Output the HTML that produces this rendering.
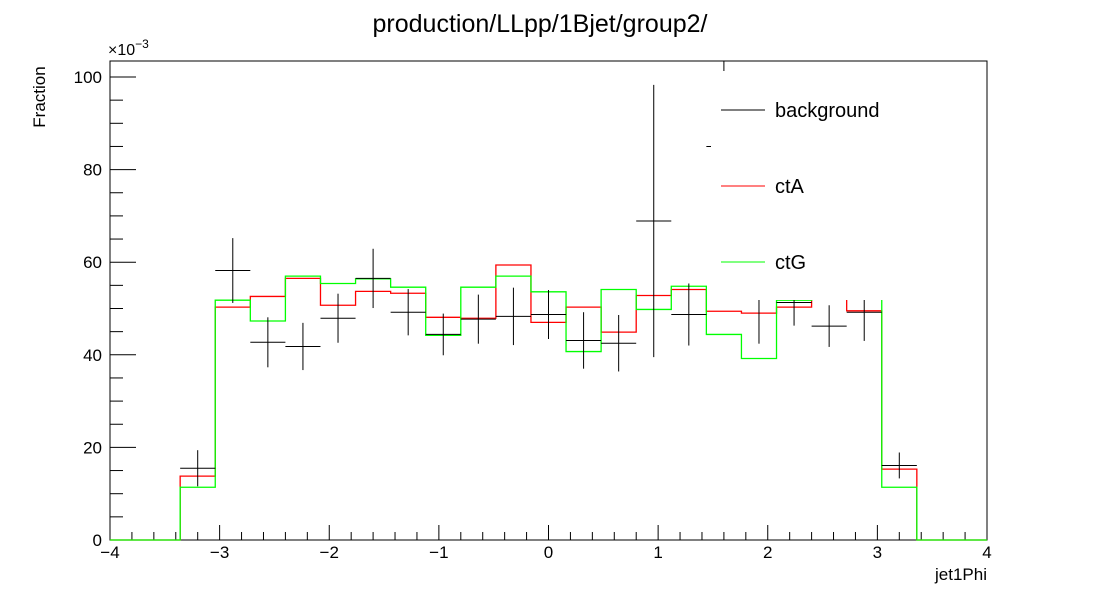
<!DOCTYPE html>
<html><head><meta charset="utf-8"><style>
body{margin:0;background:#fff}
svg{display:block;font-family:"Liberation Sans",Arial,sans-serif}
</style></head><body>
<svg id="c" width="1096" height="600" viewBox="0 0 1096 600">
<rect x="0" y="0" width="1096" height="600" fill="#fff"/>
<text x="540" y="32" font-size="25" text-anchor="middle">production/LLpp/1Bjet/group2/</text>
<g id="plot"></g>
</svg>
<script>
const binLo = -3.36, binHi = 3.36;
const bgVals = [15.5,58.2,42.7,41.8,47.9,56.5,49.2,44.4,47.7,48.3,48.7,43.1,42.5,68.9,48.7,85,53,51.3,46.2,49.2,16.1];
const bgErrs = [3.9,7.0,5.4,5.1,5.3,6.4,5.0,4.5,5.3,6.2,5.3,6.1,6.1,29.4,6.7,25,10.6,5.0,4.5,6.2,2.8];
const ctAVals = [13.8,50.3,52.6,56.5,50.7,53.7,53.3,48.1,47.9,59.4,47.0,50.3,44.9,52.8,54.1,49.4,49.0,50.3,53,49.5,15.3];
const ctGVals = [11.4,51.8,47.3,57.0,55.4,56.4,54.6,44.2,54.6,57.0,53.6,40.7,54.1,49.8,54.8,44.4,39.2,51.8,52.5,53,11.4];
const xTicks = [-4,-3,-2,-1,0,1,2,3,4];
const yTicks = [0,20,40,60,80,100];
const legendLabels = ["background","ctA","ctG"];

const NS="http://www.w3.org/2000/svg";
const g=document.getElementById('plot');
const X0=110,X1=987,Y0=540,Y1=61;
const xs=v=>X0+(v+4)/8*(X1-X0);
const ys=v=>Y0-v*4.63;
function mk(tag,attrs,parent){const e=document.createElementNS(NS,tag);for(const k in attrs)e.setAttribute(k,attrs[k]);(parent||g).appendChild(e);return e;}
const n=bgVals.length, w=(binHi-binLo)/n;

// frame
const fr=mk('rect',{x:X0,y:Y1,width:X1-X0,height:Y0-Y1,fill:'none',stroke:'#000','stroke-width':1});


// x ticks
const xa=mk('g',{});


for(let v=-4;v<=4.001;v+=0.2){const x=xs(v);const maj=Math.abs(v-Math.round(v))<1e-6;mk('line',{x1:x,x2:x,y1:Y0,y2:Y0-(maj?15:8),stroke:'#000'},xa);}
xTicks.forEach(v=>{const t=mk('text',{x:xs(v),y:558,'font-size':17,'text-anchor':'middle'},xa);t.textContent=(v<0?'\u2212'+(-v):''+v);});
// y ticks
const ya=mk('g',{});


for(let v=0;v<=103;v+=5){const y=ys(v);const maj=v%20===0;mk('line',{x1:X0,x2:X0+(maj?26:13),y1:y,y2:y,stroke:'#000'},ya);}
yTicks.forEach(v=>{const t=mk('text',{x:102,y:ys(v)+6,'font-size':17,'text-anchor':'end'},ya);t.textContent=v;});
const ex=mk('text',{x:108,y:55,'font-size':16},ya);ex.innerHTML='\u00d710<tspan dy="-7" font-size="12">\u22123</tspan>';



// clip
const defs=mk('defs',{});
const cp=mk('clipPath',{id:'cl'},defs);
mk('rect',{x:X0,y:Y1,width:X1-X0,height:Y0-Y1+1},cp);
const data=mk('g',{'clip-path':'url(#cl)'});

function histPath(vals){
  let d='M'+X0+','+Y0+' L'+xs(binLo)+','+Y0;
  for(let i=0;i<vals.length;i++){const a=xs(binLo+i*w),b=xs(binLo+(i+1)*w);d+=' L'+a+','+ys(vals[i])+' L'+b+','+ys(vals[i]);}
  d+=' L'+xs(binHi)+','+Y0+' L'+X1+','+Y0;return d;
}
const pa=mk('path',{d:histPath(ctAVals),fill:'none',stroke:'#ff0000','stroke-width':1.3},data);


const pg=mk('path',{d:histPath(ctGVals),fill:'none',stroke:'#00ff00','stroke-width':1.3},data);


for(let i=0;i<n;i++){
  const a=xs(binLo+i*w),b=xs(binLo+(i+1)*w),c=(a+b)/2,y=ys(bgVals[i]);
  const pt=mk('g',{},data);
  
  
  mk('line',{x1:a,x2:b,y1:y,y2:y,stroke:'#000','stroke-width':1},pt);
  mk('line',{x1:c,x2:c,y1:ys(bgVals[i]+bgErrs[i]),y2:ys(bgVals[i]-bgErrs[i]),stroke:'#000','stroke-width':1},pt);
}
// legend box (white, covers)
const lg=mk('g',{});


mk('rect',{x:711,y:71,width:275,height:229,fill:'#fff'},lg);
const lc=['#000','#ff0000','#00ff00'];
legendLabels.forEach((t,i)=>{
  const y=110+i*76;
  const e=mk('g',{},lg);
  
  
  mk('line',{x1:721,x2:765,y1:y,y2:y,stroke:lc[i],'stroke-width':1},e);
  const tx=mk('text',{x:775,y:y+7,'font-size':20},e);tx.textContent=t;
});
const yt=mk('text',{x:0,y:0,'font-size':17,'text-anchor':'middle',transform:'translate(45,97) rotate(-90)'});
yt.textContent='Fraction';


const xt=mk('text',{x:987,y:580,'font-size':17,'text-anchor':'end'});
xt.textContent='jet1Phi';


</script>
</body></html>
